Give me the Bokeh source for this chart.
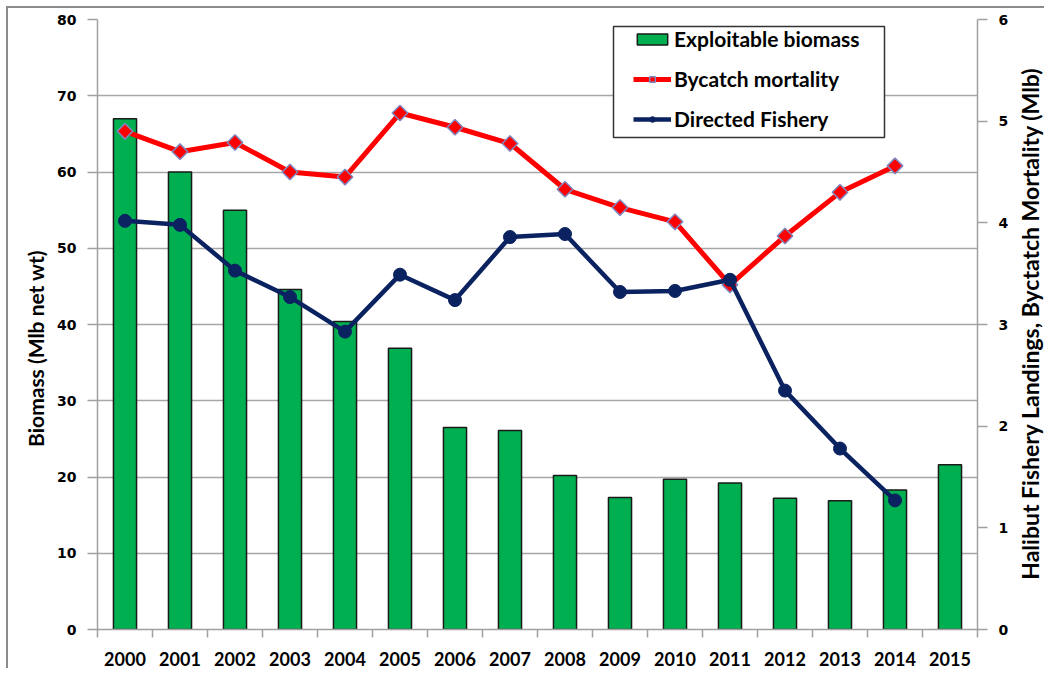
import math
from bokeh.plotting import figure
from bokeh.layouts import row, column
from bokeh.models import (Range1d, LinearAxis, FixedTicker, Legend, LegendItem,
                          BoxAnnotation, Spacer)
from bokeh.embed import file_html
from bokeh.resources import INLINE

years = [2000, 2001, 2002, 2003, 2004, 2005, 2006, 2007, 2008, 2009, 2010, 2011, 2012, 2013, 2014, 2015]
year_labels = [str(y) for y in years]
biomass = [67.0, 60.0, 55.0, 44.6, 40.4, 36.9, 26.5, 26.1, 20.2, 17.3, 19.7, 19.2, 17.2, 16.9, 18.3, 21.6]
line_years = years[:15]
bycatch = [4.90, 4.70, 4.79, 4.50, 4.45, 5.08, 4.94, 4.78, 4.33, 4.15, 4.01, 3.39, 3.87, 4.30, 4.56]
directed = [4.02, 3.98, 3.53, 3.27, 2.93, 3.49, 3.24, 3.86, 3.89, 3.32, 3.33, 3.44, 2.35, 1.78, 1.27]
left_ticks = [0, 10, 20, 30, 40, 50, 60, 70, 80]
right_ticks = [0, 1, 2, 3, 4, 5, 6]
left_title = "Biomass (Mlb net wt)"
right_title = "Halibut Fishery Landings, Byctatch Mortality (Mlb)"

AX_GRAY = "#a0a0a0"
EDGE_GRAY = "#8c8c8c"

# page geometry of the plotting frame
PFL, PFR, PFT, PFB = 97, 977, 19, 634
TOPBAR = 8          # top edge strip (6 white + 2 gray)
LEFTBAR = 8         # left edge strip (6 white + 2 gray)
LTW = 41            # width of the left title strip
RTW = 32            # width of the right title strip
TOTAL_W, TOTAL_H = 1044, 668
H = TOTAL_H - TOPBAR
MX = LEFTBAR + LTW  # page x where main figure starts
MW = TOTAL_W - MX - RTW

PX_PER_YEAR = (PFR - PFL) / 16.0
PX_PER_UNIT = (PFB - PFT) / 80.0

def xd(px):
    return 1999.5 + (px - PFL) / PX_PER_YEAR

def yd(py):
    return (PFB - py) / PX_PER_UNIT

def title_strip(width, text, top, bottom, size):
    f = figure(width=width, height=H, x_axis_type=None,
               x_range=Range1d(0, 1), y_range=Range1d(0, 1), frame_align=False,
               output_backend="svg", toolbar_location=None,
               min_border_left=width - 2, min_border_right=0,
               min_border_top=top, min_border_bottom=bottom)
    f.outline_line_color = None
    f.border_fill_color = "white"
    f.background_fill_color = "white"
    f.grid.visible = False
    ax = f.yaxis[0]
    ax.ticker = FixedTicker(ticks=[])
    ax.axis_line_color = None
    ax.major_tick_line_color = None
    ax.minor_tick_line_color = None
    ax.major_tick_out = 0
    ax.major_tick_in = 0
    ax.minor_tick_out = 0
    ax.axis_label = text
    ax.axis_label_standoff = 0
    ax.axis_label_text_font = "Lato"
    ax.axis_label_text_font_style = "bold"
    ax.axis_label_text_font_size = size
    ax.axis_label_text_color = "black"
    return f

# left title centred at page y ~348, right title at ~323
pl_title = title_strip(LTW, left_title, 60 - TOPBAR, TOTAL_H - 636, "21px")
pr_title = title_strip(RTW, right_title, 12 - TOPBAR, TOTAL_H - PFB, "23px")

p = figure(width=MW, height=H, x_range=Range1d(1999.5, 2015.5), y_range=Range1d(0, 80),
           output_backend="svg", toolbar_location=None, frame_align=False,
           min_border_left=PFL - MX, min_border_right=MX + MW - PFR,
           min_border_top=PFT - TOPBAR, min_border_bottom=TOTAL_H - PFB)
p.extra_y_ranges = {"right": Range1d(0, 6)}
p.outline_line_color = None
p.background_fill_color = "white"
p.border_fill_color = "white"

p.xgrid.visible = False
p.ygrid.ticker = FixedTicker(ticks=left_ticks)
p.ygrid.grid_line_color = "#a6a6a6"
p.ygrid.grid_line_width = 1.5

def style_y(ax):
    ax.axis_line_color = AX_GRAY
    ax.axis_line_width = 1.5
    ax.major_tick_line_color = AX_GRAY
    ax.major_tick_line_width = 1.5
    ax.major_tick_out = 10
    ax.major_tick_in = 0
    ax.minor_tick_line_color = None
    ax.major_label_text_font = "DejaVu Sans"
    ax.major_label_text_font_style = "bold"
    ax.major_label_text_font_size = "14px"
    ax.major_label_text_color = "black"
    ax.major_label_standoff = 11

yl = p.yaxis[0]
yl.ticker = FixedTicker(ticks=left_ticks)
style_y(yl)

yr = LinearAxis(y_range_name="right", ticker=FixedTicker(ticks=right_ticks))
style_y(yr)
p.add_layout(yr, "right")

xa = p.xaxis[0]
xa.ticker = FixedTicker(ticks=years, minor_ticks=[y - 0.5 for y in years] + [years[-1] + 0.5])
xa.major_label_overrides = {y: l for y, l in zip(years, year_labels)}
xa.axis_line_color = AX_GRAY
xa.axis_line_width = 1.5
xa.major_tick_line_color = None
xa.major_tick_out = 0
xa.major_tick_in = 0
xa.minor_tick_line_color = AX_GRAY
xa.minor_tick_line_width = 1.5
xa.minor_tick_out = 8
xa.minor_tick_in = 0
xa.major_label_standoff = 14
xa.major_label_text_font = "Lato"
xa.major_label_text_font_style = "bold"
xa.major_label_text_font_size = "18px"
xa.major_label_text_color = "black"

bars = p.vbar(x=years, top=biomass, width=0.42, fill_color="#00b050",
              line_color="#1a1a1a", line_width=1.5)

rl = p.line(line_years, bycatch, y_range_name="right", line_color="#ff0000", line_width=5)
rs = p.scatter(line_years, bycatch, y_range_name="right", marker="square", angle=math.pi / 4,
               size=11, fill_color="#ff0000", line_color="#8088c0", line_width=1.5)

bl = p.line(line_years, directed, y_range_name="right", line_color="#0b2261", line_width=4.5)
bs = p.scatter(line_years, directed, y_range_name="right", marker="circle",
               size=13, fill_color="#0b2261", line_color="#0b2261")

# legend frame
box = BoxAnnotation(left=xd(613), right=xd(884), top=yd(26), bottom=yd(138),
                    fill_color="white", fill_alpha=1.0, line_color="#333333",
                    line_width=1.5, line_alpha=1.0)
p.add_layout(box)

legend = Legend(items=[
    LegendItem(label="Exploitable biomass", renderers=[bars]),
    LegendItem(label="Bycatch mortality", renderers=[rl, rs]),
    LegendItem(label="Directed Fishery", renderers=[bl, bs]),
], location=(633 - PFL, PFB - 136))
legend.label_text_font = "Lato"
legend.label_text_font_style = "bold"
legend.label_text_font_size = "21px"
legend.label_text_color = "black"
legend.glyph_width = 38
legend.glyph_height = 14
legend.label_height = 20
legend.spacing = 15
legend.padding = 0
legend.margin = 0
legend.label_standoff = 3
legend.border_line_color = None
legend.background_fill_alpha = 0.0
p.add_layout(legend, "center")

# chart border strips (left and top edges)
top_strip = row(
    Spacer(width=6, height=TOPBAR),
    Spacer(width=TOTAL_W - 6, height=TOPBAR,
           styles={"background": "linear-gradient(to bottom, #ffffff 0px, #ffffff 6px, %s 6px, %s 8px)"
                   % (EDGE_GRAY, EDGE_GRAY)}),
    spacing=0)
left_strip = row(Spacer(width=6, height=H),
                 Spacer(width=2, height=H, styles={"background-color": EDGE_GRAY}),
                 spacing=0)

layout = column(top_strip, row(left_strip, pl_title, p, pr_title, spacing=0), spacing=0)
open("out.html", "w").write(file_html(layout, INLINE))
